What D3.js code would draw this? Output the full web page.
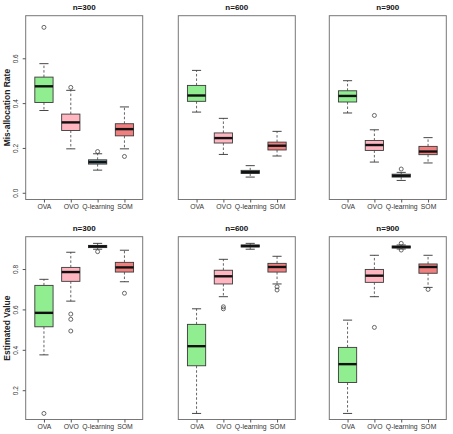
<!DOCTYPE html>
<html><head><meta charset="utf-8">
<script src="https://cdn.jsdelivr.net/npm/d3@7"></script>
<style>body{margin:0;background:#fff;font-family:"Liberation Sans",Arial,sans-serif}</style>
</head><body><svg id="c" width="453" height="434"></svg>
<script>
const methods = ["OVA", "OVO", "Q-learning", "SOM"];
const colors = ["#90EE90", "#FFB6C1", "#86AAB8", "#F08080"];
const panelTitles = ["n=300", "n=600", "n=900"];
const rowTitles = ["Mis-allocation Rate", "Estimated Value"];
const topTicks = [0.0, 0.2, 0.4, 0.6];
const bottomTicks = [0.2, 0.4, 0.6, 0.8];

// each stat: [whiskerLow, q1, median, q3, whiskerHigh, outliers]
const misN300 = [
  [0.367, 0.403, 0.475, 0.516, 0.576, [0.738]],
  [0.196, 0.278, 0.314, 0.351, 0.457, [0.470]],
  [0.101, 0.128, 0.137, 0.147, 0.174, [0.184]],
  [0.196, 0.254, 0.284, 0.308, 0.383, [0.162]]
];
const misN600 = [
  [0.360, 0.408, 0.434, 0.479, 0.546, []],
  [0.171, 0.222, 0.244, 0.267, 0.332, []],
  [0.070, 0.086, 0.092, 0.100, 0.121, []],
  [0.164, 0.191, 0.210, 0.226, 0.274, []]
];
const misN900 = [
  [0.356, 0.405, 0.432, 0.455, 0.500, []],
  [0.137, 0.189, 0.213, 0.233, 0.281, [0.345]],
  [0.055, 0.070, 0.076, 0.083, 0.091, [0.106]],
  [0.133, 0.170, 0.184, 0.207, 0.246, []]
];
const valN300 = [
  [0.375, 0.514, 0.583, 0.719, 0.749, [0.085]],
  [0.641, 0.739, 0.785, 0.808, 0.883, [0.577, 0.551, 0.493]],
  [0.898, 0.906, 0.912, 0.917, 0.927, [0.886]],
  [0.737, 0.785, 0.808, 0.833, 0.893, [0.680]]
];
const valN600 = [
  [0.085, 0.321, 0.418, 0.526, 0.603, []],
  [0.663, 0.726, 0.764, 0.794, 0.848, [0.613, 0.603]],
  [0.898, 0.909, 0.914, 0.919, 0.927, []],
  [0.726, 0.785, 0.810, 0.828, 0.863, [0.712, 0.696]]
];
const valN900 = [
  [0.085, 0.238, 0.329, 0.412, 0.547, []],
  [0.663, 0.734, 0.767, 0.798, 0.868, [0.511]],
  [0.899, 0.904, 0.909, 0.914, 0.919, [0.927, 0.894]],
  [0.709, 0.779, 0.810, 0.825, 0.868, [0.699]]
];
const rows = [
  {data: [misN300, misN600, misN900], domain: [-0.03, 0.79], ticks: topTicks, top: 15.7, bottom: 199.5, fmt: d3.format(".1f")},
  {data: [valN300, valN600, valN900], domain: [0.055, 0.96], ticks: bottomTicks, top: 236.7, bottom: 419.5, fmt: d3.format(".1f")}
];
const lefts = [25.7, 178.3, 329.3];
const pw = 117;

const svg = d3.select("#c");

rows.forEach((row, ri) => {
  const y = d3.scaleLinear().domain(row.domain).range([row.bottom, row.top]);
  row.data.forEach((stats, pi) => {
    const x = d3.scaleLinear().domain([0.32, 4.68]).range([lefts[pi], lefts[pi] + pw]);
    const g = svg.append("g");
    const bw = (x(1.34) - x(1)) ; // half width
    stats.forEach((s, i) => {
      const cx = x(i + 1);
      const [lo, q1, med, q3, hi, outs] = s;
      // whiskers
      g.append("line").attr("x1", cx).attr("x2", cx).attr("y1", y(q3)).attr("y2", y(hi))
        .attr("stroke", "#555").attr("stroke-width", 0.9).attr("stroke-dasharray", "2.5,2");
      g.append("line").attr("x1", cx).attr("x2", cx).attr("y1", y(q1)).attr("y2", y(lo))
        .attr("stroke", "#555").attr("stroke-width", 0.9).attr("stroke-dasharray", "2.5,2");
      // caps
      [lo, hi].forEach(v => g.append("line").attr("x1", cx - bw / 2).attr("x2", cx + bw / 2)
        .attr("y1", y(v)).attr("y2", y(v)).attr("stroke", "#333").attr("stroke-width", 0.9));
      // box
      g.append("rect").attr("x", cx - bw).attr("width", 2 * bw)
        .attr("y", y(q3)).attr("height", Math.max(0.5, y(q1) - y(q3)))
        .attr("fill", colors[i]).attr("stroke", "#3a3a3a").attr("stroke-width", 0.9);
      // median
      g.append("line").attr("x1", cx - bw).attr("x2", cx + bw).attr("y1", y(med)).attr("y2", y(med))
        .attr("stroke", "#111").attr("stroke-width", 2.4);
      // outliers
      outs.forEach(o => g.append("circle").attr("cx", cx).attr("cy", y(o)).attr("r", 2)
        .attr("fill", "none").attr("stroke", "#444").attr("stroke-width", 0.8));
    });
    // frame
    g.append("rect").attr("x", lefts[pi]).attr("y", row.top).attr("width", pw).attr("height", row.bottom - row.top)
      .attr("fill", "none").attr("stroke", "#777").attr("stroke-width", 1);
    // x axis
    const xa = g.append("g").attr("transform", `translate(0,${row.bottom})`)
      .call(d3.axisBottom(x).tickValues([1, 2, 3, 4]).tickFormat((d, k) => methods[k]).tickSize(3).tickPadding(2));
    xa.select(".domain").remove();
    xa.selectAll("line").attr("stroke", "#555");
    xa.selectAll("text").attr("font-size", "6.8px").attr("fill", "#333").attr("font-family", "Liberation Sans, Arial, sans-serif");
    // title
    g.append("text").attr("x", lefts[pi] + pw / 2).attr("y", row.top - 6).attr("text-anchor", "middle")
      .attr("font-size", "8px").attr("font-weight", "bold").attr("fill", "#111").text(panelTitles[pi]);
    if (pi === 0) {
      const ya = g.append("g").attr("transform", `translate(${lefts[pi]},0)`)
        .call(d3.axisLeft(y).tickValues(row.ticks).tickFormat(row.fmt).tickSize(3).tickPadding(2));
      ya.select(".domain").remove();
      ya.selectAll("line").attr("stroke", "#555");
      ya.selectAll("text").attr("font-size", "6.5px").attr("fill", "#333")
        .attr("font-family", "Liberation Sans, Arial, sans-serif")
        .attr("text-anchor", "middle").attr("x", 0).attr("dy", 0)
        .attr("transform", "translate(-7.5,0) rotate(-90)");
      g.append("text").attr("transform", `translate(10,${(row.top + row.bottom) / 2}) rotate(-90)`)
        .attr("text-anchor", "middle").attr("font-size", "8.5px").attr("font-weight", "bold").attr("fill", "#222")
        .text(rowTitles[ri]);
    }
  });
});
</script></body></html>
